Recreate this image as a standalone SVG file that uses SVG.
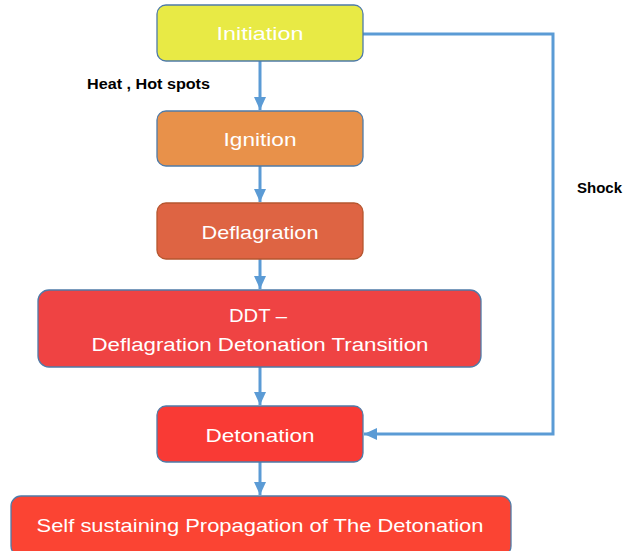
<svg xmlns="http://www.w3.org/2000/svg" width="625" height="551" viewBox="0 0 625 551">
<style>
.box{stroke:#4F7BA8;stroke-width:1.3}
.t{font-family:"Liberation Sans",Arial,sans-serif;font-size:19px;fill:#ffffff;text-anchor:middle}
.lbl{font-family:"Liberation Sans",Arial,sans-serif;font-size:14px;font-weight:bold;fill:#000000}
.c{fill:none;stroke:#5B9BD5;stroke-width:3}
</style>
<defs>
<marker id="ah" markerUnits="userSpaceOnUse" markerWidth="14" markerHeight="14" viewBox="0 0 14 14" refX="13" refY="7" orient="auto">
<path d="M0,1 L13,7 L0,13 Z" fill="#5B9BD5"/>
</marker>
</defs>
<rect width="625" height="551" fill="#ffffff"/>
<g id="connectors">
<line class="c" x1="260" y1="61" x2="260" y2="110" marker-end="url(#ah)"/>
<line class="c" x1="260" y1="166" x2="260" y2="202" marker-end="url(#ah)"/>
<line class="c" x1="260" y1="259" x2="260" y2="289" marker-end="url(#ah)"/>
<line class="c" x1="260" y1="367" x2="260" y2="405" marker-end="url(#ah)"/>
<line class="c" x1="260" y1="462" x2="260" y2="495" marker-end="url(#ah)"/>
<path class="c" d="M363,34 H553 V434 H364" marker-end="url(#ah)"/>
<text class="lbl" x="87" y="89" textLength="123" lengthAdjust="spacingAndGlyphs">Heat , Hot spots</text>
<text class="lbl" x="577" y="193" textLength="45" lengthAdjust="spacingAndGlyphs">Shock</text>
</g>
<g id="initiation">
<rect class="box" x="157" y="5" width="206" height="56" rx="9" fill="#E8EA45"/>
<text class="t" x="260" y="40" textLength="87" lengthAdjust="spacingAndGlyphs">Initiation</text>
</g>
<g id="ignition">
<rect class="box" x="157" y="111" width="206" height="55" rx="9" fill="#E8914A"/>
<text class="t" x="260" y="146" textLength="73" lengthAdjust="spacingAndGlyphs">Ignition</text>
</g>
<g id="deflagration">
<rect class="box" x="157" y="203" width="206" height="56" rx="9" fill="#DE6443" stroke="#B5562F" style="stroke:#B5562F"/>
<text class="t" x="260" y="239" textLength="117" lengthAdjust="spacingAndGlyphs">Deflagration</text>
</g>
<g id="ddt">
<rect class="box" x="38" y="290" width="443" height="77" rx="11" fill="#EF4343"/>
<text class="t" x="258" y="322" textLength="58" lengthAdjust="spacingAndGlyphs">DDT –</text>
<text class="t" x="260" y="351" textLength="337" lengthAdjust="spacingAndGlyphs">Deflagration Detonation Transition</text>
</g>
<g id="detonation">
<rect class="box" x="157" y="406" width="206" height="56" rx="9" fill="#F93A35"/>
<text class="t" x="260" y="442" textLength="109" lengthAdjust="spacingAndGlyphs">Detonation</text>
</g>
<g id="self">
<rect class="box" x="11" y="496" width="500" height="60" rx="10" fill="#FB4433"/>
<text class="t" x="260" y="532" textLength="447" lengthAdjust="spacingAndGlyphs">Self sustaining Propagation of The Detonation</text>
</g>
</svg>
